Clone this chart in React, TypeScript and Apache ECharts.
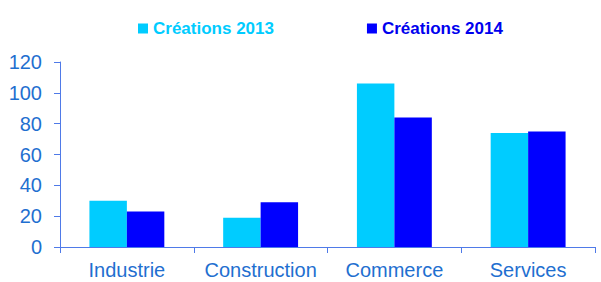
import React, { useEffect, useRef } from "react";
import * as echarts from "echarts";

const categories = ["Industrie", "Construction", "Commerce", "Services"];
const series2013 = [30, 19, 106, 74];
const series2014 = [23, 29, 84, 75];
const seriesNames = ["Créations 2013", "Créations 2014"];

export default function App() {
  const ref = useRef<HTMLDivElement>(null);
  useEffect(() => {
    const chart = echarts.init(ref.current!, null, { renderer: "svg" });
    const axisColor = "#4f7ae8";
    const labelColor = "#1f6fd0";
    chart.setOption({
      animation: false,
      legend: {
        top: 15,
        left: 133,
        itemGap: 93,
        itemWidth: 10,
        itemHeight: 10,
        icon: "rect",
        textStyle: { fontFamily: "Liberation Sans, Arial", fontWeight: "bold", fontSize: 17 },
        data: [
          { name: seriesNames[0], textStyle: { color: "#00ccff" } },
          { name: seriesNames[1], textStyle: { color: "#0000ee" } },
        ],
      },
      grid: { left: 60, right: 6, top: 62, bottom: 35, containLabel: false },
      xAxis: {
        type: "category",
        data: categories,
        axisLine: { lineStyle: { color: axisColor, width: 1 } },
        axisTick: { show: true, length: 6, lineStyle: { color: axisColor } },
        axisLabel: {
          interval: 0,
          color: labelColor,
          fontFamily: "Liberation Sans, Arial",
          fontSize: 20,
          margin: 13,
        },
      },
      yAxis: {
        type: "value",
        min: 0,
        max: 120,
        interval: 20,
        splitLine: { show: false },
        axisLine: { show: true, lineStyle: { color: axisColor, width: 1 } },
        axisTick: { show: true, length: 6, lineStyle: { color: axisColor } },
        axisLabel: {
          color: labelColor,
          fontFamily: "Liberation Sans, Arial",
          fontSize: 20,
          margin: 18,
        },
      },
      series: [
        {
          name: seriesNames[0],
          type: "bar",
          data: series2013,
          barWidth: "28%",
          barGap: "0%",
          itemStyle: { color: "#00ccff" },
        },
        {
          name: seriesNames[1],
          type: "bar",
          data: series2014,
          barWidth: "28%",
          barGap: "0%",
          itemStyle: { color: "#0000ff" },
        },
      ],
    });
    return () => chart.dispose();
  }, []);
  return <div ref={ref} style={{ width: 601, height: 282, position: "absolute", left: 0, top: 0 }} />;
}
